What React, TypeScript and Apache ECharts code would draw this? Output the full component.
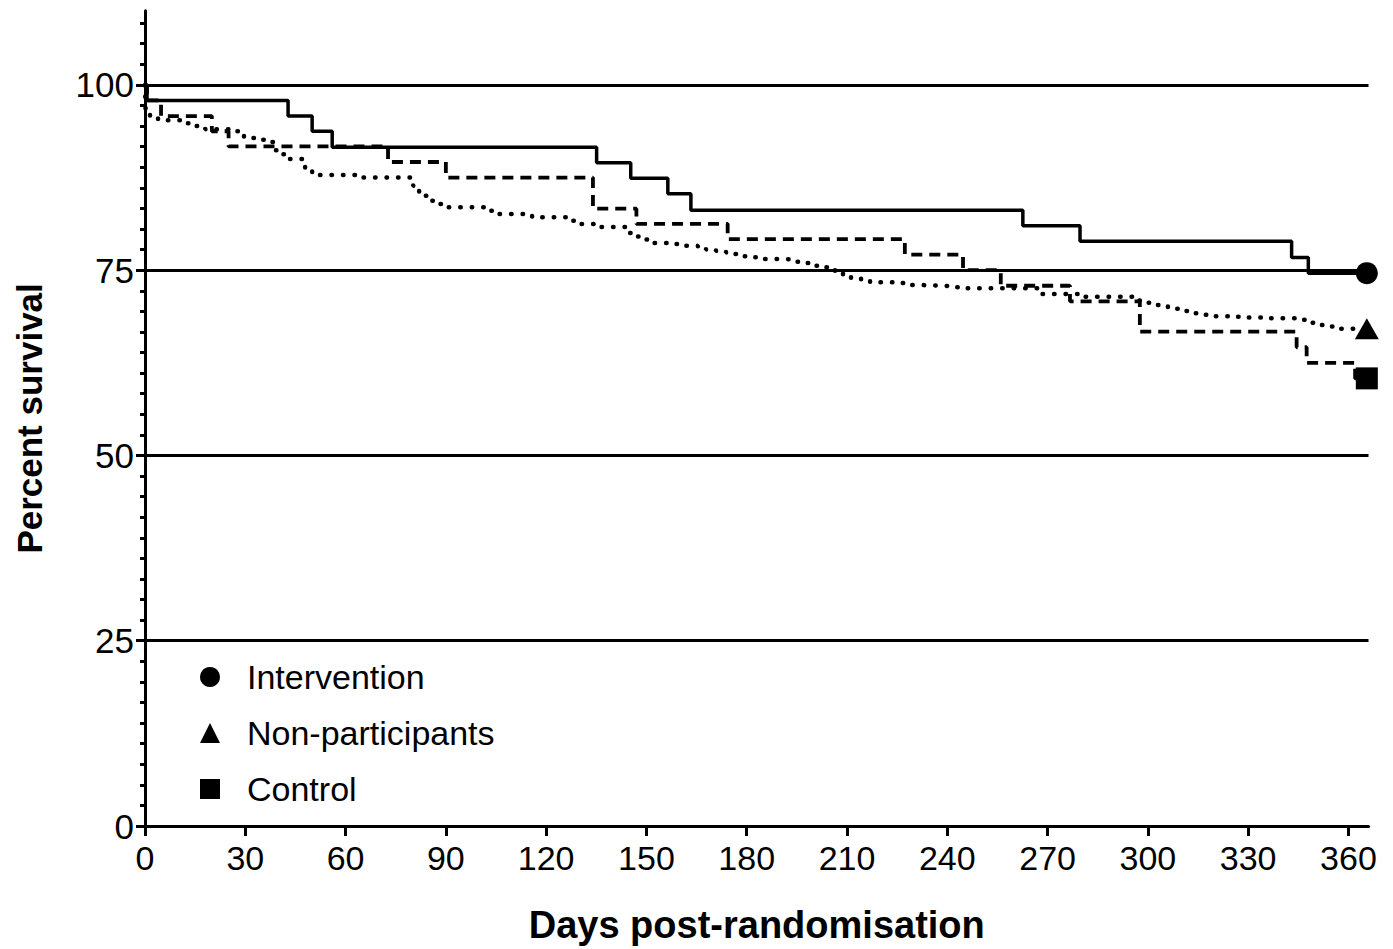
import React, { useEffect, useRef } from "react";
import * as echarts from "echarts";

const X_TICKS = [0, 30, 60, 90, 120, 150, 180, 210, 240, 270, 300, 330, 360];
const Y_TICKS = [0, 25, 50, 75, 100];
const GRID_LINES = [25, 50, 75, 100];
const SERIES_NAMES = ["Intervention", "Non-participants", "Control"];

const interventionData: [number, number][] = [
  [0, 100], [0.6, 97.9], [42.8, 95.8], [50, 93.75], [56, 91.6], [135.1, 89.5],
  [145.3, 87.4], [156.4, 85.3], [163.3, 83.1], [262.6, 81.0], [279.7, 78.9],
  [343, 76.7], [348, 74.6], [365.5, 74.6],
];

const controlData: [number, number][] = [
  [0, 100], [0.6, 97.9], [4.8, 95.8], [20, 93.75], [25, 91.7], [72.7, 89.6],
  [90, 87.5], [134, 83.3], [147, 81.25], [174.3, 79.2], [227.3, 77.1],
  [244.7, 75.0], [256, 72.9], [276.7, 70.8], [297.6, 66.7], [344.5, 64.6],
  [347.5, 62.5], [362, 60.4], [365.5, 60.4],
];

const nonParticipantsData: [number, number][] = [
  [0, 100], [0.2, 96.05], [1.5, 95.78], [3.9, 95.24], [12.3, 94.84], [15.0, 94.47],
  [18.0, 94.03], [25.4, 93.76], [29.6, 92.82], [34.4, 92.59], [37.7, 92.28],
  [38.9, 91.2], [40.4, 90.66], [42.2, 89.99], [47.9, 88.41], [50.0, 87.83],
  [65.0, 87.5], [80.2, 86.39], [82.0, 85.04], [84.4, 84.37], [87.0, 83.92],
  [89.1, 83.48], [101.4, 83.02], [103.8, 82.58], [115.8, 82.13], [127.7, 81.67],
  [130.1, 81.23], [135.5, 80.82], [143.6, 80.02], [145.7, 79.54], [148.1, 79.14],
  [150.5, 78.67], [156.5, 78.53], [159.4, 78.3], [165.4, 78.06], [167.8, 77.79],
  [170.8, 77.59], [173.8, 77.39], [176.5, 77.18], [179.2, 76.87], [181.6, 76.74],
  [184.6, 76.51], [191.4, 76.42], [194.1, 76.15], [196.5, 75.97], [198.9, 75.61],
  [201.9, 75.39], [204.3, 75.26], [206.4, 74.62], [208.8, 74.18], [211.2, 73.91],
  [214.2, 73.58], [216.9, 73.37], [226.4, 73.27], [228.8, 73.0], [231.8, 72.91],
  [238.4, 72.83], [241.4, 72.7], [244.4, 72.56], [268, 71.8], [280, 71.4],
  [296, 70.9], [298.5, 70.6], [301, 70.3], [303.5, 70.1], [306, 69.8],
  [309, 69.5], [312, 69.2], [316, 69.0], [319, 68.8], [326, 68.7], [330, 68.6],
  [334, 68.5], [344, 68.3], [347, 67.9], [350, 67.6], [353, 67.4], [356, 67.1],
  [365.5, 67.1],
];

const FONT = "'Liberation Sans', Arial, Helvetica, sans-serif";

export default function App() {
  const ref = useRef<HTMLDivElement>(null);

  useEffect(() => {
    if (!ref.current) return;
    const chart = echarts.init(ref.current, undefined, { renderer: "svg" });

    const minorTicks: number[] = [];
    for (let k = 1; k * (25 / 9) <= 110; k++) {
      if (k % 9 !== 0) minorTicks.push(+(k * (25 / 9)).toFixed(4));
    }

    const last = (d: [number, number][]) => d[d.length - 1];

    const lineBase = {
      type: "line",
      step: "end",
      symbol: "none",
      silent: true,
      xAxisIndex: 0,
      yAxisIndex: 0,
    };

    chart.setOption({
      animation: false,
      backgroundColor: "#ffffff",
      grid: { left: 145, right: 24.5, top: 10.8, bottom: 121.3 },
      xAxis: {
        type: "value",
        min: 0,
        max: 366,
        interval: 30,
        name: "Days post-randomisation",
        nameLocation: "middle",
        nameGap: 80,
        nameTextStyle: { fontFamily: FONT, fontSize: 38, fontWeight: "bold", color: "#000" },
        axisLine: { show: true, onZero: false, lineStyle: { color: "#000", width: 3 } },
        axisTick: { show: true, length: 10, lineStyle: { color: "#000", width: 3 }, customValues: X_TICKS },
        axisLabel: { color: "#000", fontFamily: FONT, fontSize: 34, margin: 15, customValues: X_TICKS },
        splitLine: { show: false },
      },
      yAxis: [
        {
          type: "value",
          min: 0,
          max: 110,
          interval: 25,
          name: "Percent survival",
          nameLocation: "middle",
          nameRotate: 90,
          nameGap: 98,
          nameTextStyle: { fontFamily: FONT, fontSize: 35, fontWeight: "bold", color: "#000" },
          axisLine: { show: true, onZero: false, lineStyle: { color: "#000", width: 3 } },
          axisTick: { show: true, length: 9, lineStyle: { color: "#000", width: 3 }, customValues: Y_TICKS },
          axisLabel: { color: "#000", fontFamily: FONT, fontSize: 35, margin: 11, customValues: Y_TICKS },
          splitLine: { show: false },
        },
        {
          type: "value",
          min: 0,
          max: 110,
          position: "left",
          axisLine: { show: false },
          axisTick: { show: true, length: 5, lineStyle: { color: "#000", width: 3 }, customValues: minorTicks },
          axisLabel: { show: false },
          splitLine: { show: false },
        },
      ],
      legend: {
        orient: "vertical",
        left: 195,
        top: 655,
        itemWidth: 20,
        itemHeight: 20,
        itemGap: 22,
        data: SERIES_NAMES,
        selectedMode: false,
        itemStyle: { color: "#000", borderWidth: 0, opacity: 1 },
        textStyle: { color: "#000", fontFamily: FONT, fontSize: 34, lineHeight: 30, padding: [0, 0, 0, 22] },
      },
      series: [
        {
          ...lineBase,
          name: "Intervention-line",
          data: interventionData,
          lineStyle: { color: "#000", width: 3.5, type: "solid" },
          z: 3,
          markLine: {
            silent: true,
            symbol: "none",
            label: { show: false },
            lineStyle: { color: "#000", width: 3.2, type: "solid" },
            data: GRID_LINES.map((v) => ({ yAxis: v })),
          },
        },
        {
          ...lineBase,
          name: "Non-participants-line",
          data: nonParticipantsData,
          lineStyle: { color: "#000", width: 4.5, type: [0.5, 11], cap: "round" },
          z: 3,
        },
        {
          ...lineBase,
          name: "Control-line",
          data: controlData,
          lineStyle: { color: "#000", width: 3.8, type: [11, 7] },
          z: 3,
        },
        {
          type: "scatter",
          name: "Intervention",
          symbol: "circle",
          symbolSize: 22,
          itemStyle: { color: "#000", opacity: 1 },
          data: [last(interventionData)],
          z: 5,
          silent: true,
        },
        {
          type: "scatter",
          name: "Non-participants",
          symbol: "triangle",
          symbolSize: [24, 21],
          itemStyle: { color: "#000", opacity: 1 },
          data: [last(nonParticipantsData)],
          z: 5,
          silent: true,
        },
        {
          type: "scatter",
          name: "Control",
          symbol: "rect",
          symbolSize: 22,
          itemStyle: { color: "#000", opacity: 1 },
          data: [last(controlData)],
          z: 5,
          silent: true,
        },
      ],
    });

    return () => chart.dispose();
  }, []);

  return (
    <div
      ref={ref}
      style={{ position: "absolute", left: 0, top: 0, width: 1393, height: 949, background: "#fff" }}
    />
  );
}
